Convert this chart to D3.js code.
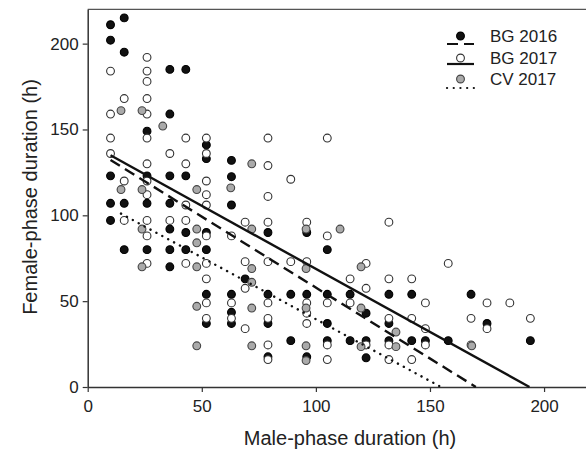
<!DOCTYPE html>
<html><head><meta charset="utf-8">
<script src="https://cdn.jsdelivr.net/npm/d3@7"></script>
<style>body{margin:0;background:#fff}svg{display:block}text{font-family:"Liberation Sans",Arial,sans-serif;fill:#222}</style>
</head><body><svg id="c" width="586" height="452"></svg>
<script>
// BG 2016 (filled black)
const bg2016 = [
 [10,211],[16,215],[10,202],[16,195],[36,185],[43,185],[36,159],[26,149],[52,141],[52,133],[63,132],
 [10,123],[26,123],[36,123],[43,123],[63,122.5],[10,107],[16,107],[26,107],[36,107],[63,106],
 [10,97],[36,92],[43,90],[52,90],[79,90],[96,90],[16,80],[26,80],[36,80],[43,80],[52,80],[105,80],
 [36,70],[69,63],[52,54],[63,54],[79,54],[89,54],[96,54],[105,54],[115,54],[132,54],[142,54],[168,54],
 [63,43.5],[122,43],[52,37],[63,37],[79,37],[105,37],[132,37],[175,37],
 [89,27],[105,27],[115,27],[122,27],[132,27],[142,27],[148,27],[158,27],[194,27],
 [79,17.6],[96,17.6],[122,17]
];
// BG 2017 (open)
const bg2017 = [
 [26,192],[10,184],[26,184],[26,178],[16,168],[26,168],[10,159],[26,159],
 [10,145],[26,145],[43,145],[52,145],[79,145],[105,145],[10,136],[36,136],[52,136],
 [26,130],[43,130],[79,129],[16,120],[26,120],[52,120],[89,121],[26,112],[52,112],[79,111],
 [43,106],[52,106],[16,97],[26,97],[36,97],[43,97],[69,96],[79,96],[96,96],[132,96],
 [26,88],[52,88],[63,88],[105,88],[26,72],[43,72],[52,72],[122,72],[158,72],
 [69,73],[79,73],[89,73],[96,73],[52,63],[115,63],[132,63],[142,63],[69,57.5],[122,57.5],
 [52,49],[63,49],[79,49],[96,49],[105,49],[115,49],[148,49],[175,49],[185,49],[96,43],
 [52,40],[63,40],[79,40],[132,40],[142,40],[168,40],[194,40],[96,37],[69,34],[148,34],[175,34],
 [79,24.5],[105,24.5],[122,24.5],[132,24.5],[148,24.5],[168,24.5],[79,16],[105,16],[132,16],[142,16]
];
// CV 2017 (grey)
const cv2017 = [
 [14.6,161],[23.8,161],[32.9,152],[14.6,115],[23.8,115],[47.8,115],[62.7,116],[71.9,130],
 [23.8,92],[47.8,92],[71.9,92],[95.7,92],[110.6,92],[47.8,84],[23.8,70],[47.8,70],[71.9,69],[95.7,69],[119.8,70],
 [71.9,61],[47.8,47],[71.9,46],[95.7,46],[119.8,46],[135.1,32],
 [47.8,24],[71.9,24],[95.7,24],[119.8,23.5],[135.1,23.5],[168.3,24],[95.7,15.4]
];
const seriesNames = ["BG 2016","BG 2017","CV 2017"];
const regIntercept = [140.5, 142.3, 111.5];
const regSlope = [-0.826, -0.735, -0.72];
const xTicks = [0,50,100,150,200];
const yTicks = [0,50,100,150,200];

const fills = ["#111","#fff","#aaa"];
const strokes = ["#000","#333","#444"];
const dashes = ["11,6", null, "0.1,6.6"];
const data = [bg2016, bg2017, cv2017];

const svg = d3.select("#c");
const x = d3.scaleLinear().domain([0,220]).range([87.7,589.7]);
const y = d3.scaleLinear().domain([0,220]).range([387,9.3]);

// frame
svg.append("line").attr("x1",x(0)).attr("x2",x(220)).attr("y1",y(220)).attr("y2",y(220)).attr("stroke","#555").attr("stroke-width",1.2);
svg.append("line").attr("x1",x(220)).attr("x2",x(220)).attr("y1",y(220)).attr("y2",y(0)).attr("stroke","#555").attr("stroke-width",1.2);

const xa = svg.append("g").attr("transform",`translate(0,${y(0)})`)
  .call(d3.axisBottom(x).tickValues(xTicks).tickSize(5).tickSizeOuter(0).tickPadding(8));
const ya = svg.append("g").attr("transform",`translate(${x(0)},0)`)
  .call(d3.axisLeft(y).tickValues(yTicks).tickSize(5).tickSizeOuter(0).tickPadding(4));
[xa,ya].forEach(g=>{
  g.selectAll("path").attr("stroke","#333").attr("stroke-width",1.5);
  g.selectAll("line").attr("stroke","#333").attr("stroke-width",1.2);
  g.selectAll("text").attr("font-size",17).attr("fill","#222").attr("font-family",'"Liberation Sans",Arial,sans-serif');
});

// titles
svg.append("text").attr("x",350).attr("y",445).attr("text-anchor","middle").attr("font-size",20).text("Male-phase duration (h)");
svg.append("text").attr("transform","translate(37,197) rotate(-90)").attr("text-anchor","middle").attr("font-size",20).text("Female-phase duration (h)");

// points
data.forEach((d,i)=>{
  svg.append("g").selectAll("circle").data(d).join("circle")
    .attr("cx",p=>x(p[0])).attr("cy",p=>y(p[1])).attr("r",3.9)
    .attr("fill",fills[i]).attr("stroke",strokes[i]).attr("stroke-width",1.1);
});

// regression lines
data.forEach((d,i)=>{
  const x0 = d3.min(d,p=>p[0]);
  const x1 = -regIntercept[i]/regSlope[i];
  const ln = svg.append("line")
    .attr("x1",x(x0)).attr("y1",y(regIntercept[i]+regSlope[i]*x0))
    .attr("x2",x(x1)).attr("y2",y(0))
    .attr("stroke","#111").attr("stroke-width", i===2?2.4:2.4);
  if(dashes[i]) ln.attr("stroke-dasharray",dashes[i]);
  if(i===2) ln.attr("stroke-linecap","round");
});

// legend
const legY = [36, 58, 79];
const legLineY = [44, 64, 88];
seriesNames.forEach((n,i)=>{
  const ln = svg.append("line").attr("x1",447).attr("x2",474).attr("y1",legLineY[i]).attr("y2",legLineY[i])
    .attr("stroke","#111").attr("stroke-width",2.2);
  if(dashes[i]) ln.attr("stroke-dasharray",dashes[i]);
  if(i===2) ln.attr("stroke-linecap","round");
  svg.append("circle").attr("cx",460.5).attr("cy",legY[i]).attr("r",3.9)
    .attr("fill",fills[i]).attr("stroke",strokes[i]).attr("stroke-width",1.1);
  svg.append("text").attr("x",490).attr("y",legY[i]).attr("dy","0.35em").attr("font-size",17).text(n);
});
</script></body></html>
